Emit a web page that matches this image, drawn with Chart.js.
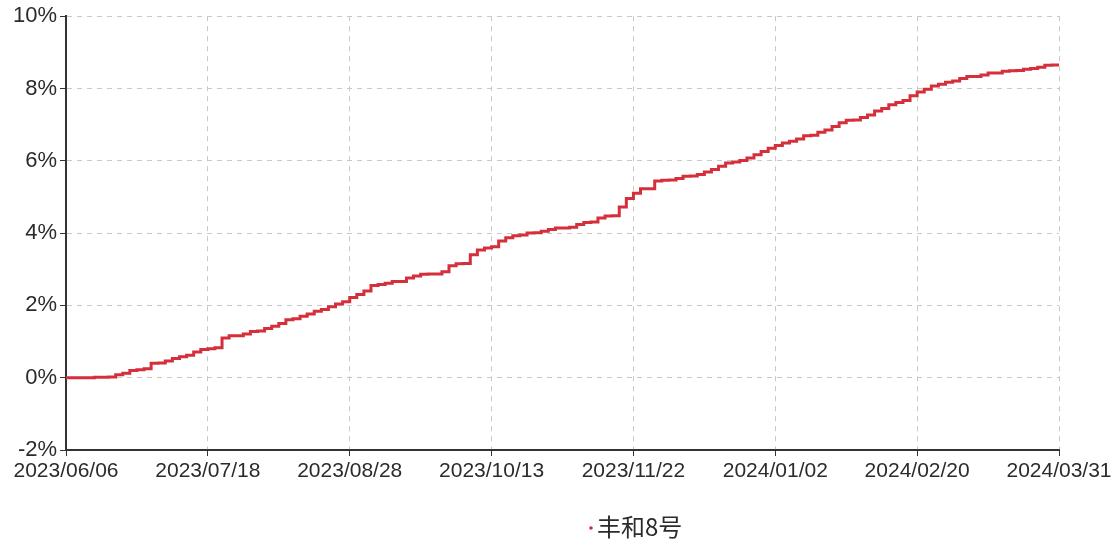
<!DOCTYPE html>
<html>
<head>
<meta charset="utf-8">
<script src="https://cdn.jsdelivr.net/npm/chart.js@4.4.1/dist/chart.umd.min.js"></script>
<style>
  html, body { margin: 0; padding: 0; background: #fff; }
  #wrap { width: 1116px; height: 543px; }
</style>
</head>
<body>
<div id="wrap"><canvas id="navChart" width="1116" height="543"></canvas></div>
<script>
// tick labels on the x axis (evenly spaced, one every 20 points)
const xTickLabels = ['2023/06/06', '2023/07/18', '2023/08/28', '2023/10/13', '2023/11/22', '2024/01/02', '2024/02/20', '2024/03/31'];
const seriesName = '丰和8号';

// cumulative return in %
const returns = [
    0.00, 0.00, 0.00, 0.00, 0.01, 0.01, 0.02, 0.08, 0.12, 0.20,
    0.22, 0.25, 0.40, 0.41, 0.46, 0.53, 0.58, 0.62, 0.71, 0.78,
    0.80, 0.83, 1.10, 1.16, 1.16, 1.21, 1.28, 1.29, 1.36, 1.42,
    1.50, 1.60, 1.63, 1.70, 1.76, 1.84, 1.89, 1.96, 2.04, 2.10,
    2.22, 2.30, 2.40, 2.55, 2.58, 2.61, 2.66, 2.66, 2.76, 2.81,
    2.86, 2.87, 2.87, 2.93, 3.10, 3.15, 3.16, 3.40, 3.53, 3.59,
    3.62, 3.78, 3.87, 3.93, 3.95, 4.00, 4.01, 4.05, 4.10, 4.14,
    4.14, 4.16, 4.24, 4.29, 4.31, 4.42, 4.47, 4.48, 4.72, 4.96,
    5.10, 5.23, 5.23, 5.44, 5.46, 5.47, 5.51, 5.57, 5.58, 5.62,
    5.69, 5.76, 5.85, 5.94, 5.97, 6.01, 6.08, 6.17, 6.26, 6.35,
    6.42, 6.49, 6.54, 6.60, 6.69, 6.71, 6.79, 6.85, 6.95, 7.05,
    7.12, 7.13, 7.20, 7.27, 7.38, 7.45, 7.55, 7.61, 7.67, 7.80,
    7.90, 7.98, 8.07, 8.12, 8.17, 8.21, 8.28, 8.33, 8.33, 8.37,
    8.43, 8.43, 8.48, 8.49, 8.50, 8.53, 8.55, 8.59, 8.64, 8.65,
    8.65
];

const yTicks = [-2, 0, 2, 4, 6, 8, 10];

const lineColor = '#d42f3b';
const textColor = '#2b2b2b';
const gridColor = '#c8c8c8';
const font = "'Liberation Sans', Arial, sans-serif";

const step = (returns.length - 1) / (xTickLabels.length - 1);

// legend drawn below the axis, like the original
const legendPlugin = {
    id: 'bottomLegend',
    afterDraw(chart) {
        const ctx = chart.ctx;
        ctx.save();
        ctx.fillStyle = lineColor;
        ctx.beginPath();
        ctx.arc(591, 528, 1.8, 0, Math.PI * 2);
        ctx.fill();
        ctx.fillStyle = textColor;
        ctx.font = "24px 'Noto Sans CJK SC', sans-serif";
        ctx.textBaseline = 'middle';
        ctx.fillText(seriesName, 597, 527);
        ctx.restore();
    }
};

const gridOpts = {
    color: gridColor,
    tickColor: '#333',
    tickLength: 6,
    tickBorderDash: []
};

const canvas = document.getElementById('navChart');
new Chart(canvas.getContext('2d'), {
    type: 'line',
    data: {
        datasets: [{
            label: seriesName,
            data: returns.map((v, i) => ({ x: i, y: v })),
            borderColor: lineColor,
            backgroundColor: lineColor,
            borderWidth: 3,
            pointRadius: 0,
            stepped: true,
            fill: false
        }]
    },
    options: {
        responsive: false,
        animation: false,
        layout: { padding: { left: 0, right: 57, top: 14, bottom: 53 } },
        plugins: {
            legend: { display: false },
            tooltip: { enabled: false }
        },
        scales: {
            x: {
                type: 'linear',
                min: 0,
                max: returns.length - 1,
                afterBuildTicks: (scale) => {
                    scale.ticks = xTickLabels.map((_, i) => ({ value: i * step }));
                },
                afterFit: (scale) => { scale.height = 40; },
                ticks: {
                    autoSkip: false,
                    maxRotation: 0,
                    padding: 3,
                    color: textColor,
                    font: { family: font, size: 21 },
                    callback: (v) => xTickLabels[Math.round(v / step)]
                },
                grid: gridOpts,
                border: { color: '#333', width: 2, dash: [5, 5] }
            },
            y: {
                min: -2,
                max: 10,
                afterBuildTicks: (scale) => {
                    scale.ticks = yTicks.map(v => ({ value: v }));
                },
                afterFit: (scale) => { scale.width = 66; },
                ticks: {
                    padding: 3,
                    color: textColor,
                    font: { family: font, size: 22 },
                    callback: (v) => v + '%'
                },
                grid: gridOpts,
                border: { color: '#333', width: 2, dash: [5, 5] }
            }
        }
    },
    plugins: [legendPlugin]
});
</script>
</body>
</html>
